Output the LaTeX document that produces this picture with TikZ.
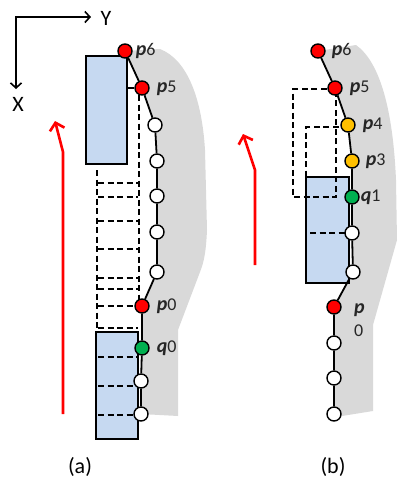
\documentclass[tikz,border=0pt]{standalone}
\usepackage{fontspec}
\setmainfont{Carlito}
\usepackage{tikz}
\usetikzlibrary{positioning,arrows.meta}
\pgfdeclarelayer{background}
\pgfsetlayers{background,main}
\definecolor{boxblue}{RGB}{198,217,241}
\definecolor{roadgray}{RGB}{217,217,217}
\definecolor{ptred}{RGB}{255,0,0}
\definecolor{ptgreen}{RGB}{0,176,80}
\definecolor{ptyellow}{RGB}{255,192,0}
\newcommand{\pl}[1]{\fontsize{20}{22}\selectfont\textbf{\textit{p}}\fontsize{18}{20}\selectfont#1}
\newcommand{\ql}[1]{\fontsize{20}{22}\selectfont\textbf{\textit{q}}\fontsize{18}{20}\selectfont#1}

\begin{document}
\begin{tikzpicture}[x=1pt,y=-1pt,
		pt/.style={circle,draw=black,line width=1.4pt,fill=white,minimum size=14pt,inner sep=0pt},
		redpt/.style={pt,fill=ptred},
		greenpt/.style={pt,fill=ptgreen},
		yellowpt/.style={pt,fill=ptyellow},
		lbl/.style={inner sep=0pt,anchor=west,text=black!85},
		bluebox/.style={rectangle,draw=black,line width=2.2pt,fill=boxblue,inner sep=0pt},
		traj/.style={line width=1.8pt},
		dashline/.style={line width=1.6pt,dash pattern=on 6pt off 3.5pt},
		road/.style={fill=roadgray},
		redarrow/.style={draw=ptred,line width=2.6pt,-{Straight Barb[length=7pt,width=15pt,line width=2.6pt]}},
		axisline/.style={line width=1.6pt,{Straight Barb[length=5pt,width=11pt,line width=1.6pt]}-{Straight Barb[length=5pt,width=11pt,line width=1.6pt]}},
		axislbl/.style={inner sep=0pt,font=\fontsize{22}{24}\selectfont},
		caption/.style={inner sep=0pt,font=\fontsize{22}{24}\selectfont}]
		\useasboundingbox (0,0) rectangle (397,493);
		% axes
		\coordinate (o) at (16,17);
		\coordinate (yend) at (91,17);
		\coordinate (xend) at (16,89);
		\draw[axisline] (xend) -- (o) -- (yend);
		\node[axislbl] (ylab) at (106,18) {Y};
		\node[axislbl] (xlab) at (18,104) {X};
		% (a)
		\node[bluebox,minimum width=41pt,minimum height=108pt] (boxa1) at (106.5,110) {};
		\node[bluebox,minimum width=42pt,minimum height=107pt] (boxa2) at (117,385.5) {};
		\draw[dashline] (97,170) -- (97,332);
		\draw[dashline] (139,95) -- (139,306);
		\foreach \y in {183,197,221,249,278,289,306,328,357,386,415}
			\draw[dashline] (98,\y) -- (138,\y);
		\node[redpt] (a6) at (125,51) {};
		\node[redpt] (a5) at (142,88) {};
		\node[pt] (aw1) at (155,125) {};
		\node[pt] (aw2) at (157,161) {};
		\node[pt] (aw3) at (157,196) {};
		\node[pt] (aw4) at (157,232) {};
		\node[pt] (aw5) at (157,272) {};
		\node[redpt] (a0) at (142,306) {};
		\node[greenpt] (aq0) at (142,348) {};
		\node[pt] (aw6) at (141,381) {};
		\node[pt] (aw7) at (141,414) {};
		\draw[traj] (boxa1.east |- a5) -- (a5);
		\draw[traj] (a6) -- (a5) -- (aw1) -- (aw2) -- (aw3) -- (aw4) -- (aw5) -- (a0) -- (aq0) -- (aw6) -- (aw7);
		\node[lbl,right=3pt of a6] (la6) {\pl{6}};
		\node[lbl,right=7pt of a5] (la5) {\pl{5}};
		\node[lbl,right=7pt of a0] (la0) {\pl{0}};
		\node[lbl,right=7pt of aq0] (laq0) {\ql{0}};
		\coordinate (ra1) at (63,414);
		\coordinate (ra2) at (63,152);
		\coordinate (ra3) at (55,121);
		\draw[redarrow] (ra1) -- (ra2) -- (ra3);
		\node[caption] (capa) at (80,467) {(a)};
		% (b)
		\node[bluebox,minimum width=43pt,minimum height=106pt] (boxb) at (327.5,230) {};
		\draw[dashline] (336,89) -- (293,89) -- (293,197) -- (336,197) -- cycle;
		\draw[dashline] (348,127) -- (306,127) -- (306,233) -- (348,233);
		\node[redpt] (b6) at (318,51) {};
		\node[redpt] (b5) at (335,88) {};
		\node[yellowpt] (b4) at (348,125) {};
		\node[yellowpt] (b3) at (352,161) {};
		\node[greenpt] (bq1) at (352,197) {};
		\node[pt] (bw1) at (352,233) {};
		\node[pt] (bw2) at (353,272) {};
		\node[redpt] (b0) at (334,307) {};
		\node[pt] (bw3) at (334,343) {};
		\node[pt] (bw4) at (334,378) {};
		\node[pt] (bw5) at (334,414) {};
		\draw[traj] (b6) -- (b5) -- (b4) -- (b3) -- (bq1) -- (bw1) -- (bw2) -- (b0) -- (bw3) -- (bw4) -- (bw5);
		\node[lbl,right=6pt of b6] (lb6) {\pl{6}};
		\node[lbl,right=7pt of b5] (lb5) {\pl{5}};
		\node[lbl,right=7pt of b4] (lb4) {\pl{4}};
		\node[lbl,right=6pt of b3] (lb3) {\pl{3}};
		\node[lbl,right=1pt of bq1] (lbq1) {\ql{1}};
		\node[lbl,anchor=north west,align=left] (lb0) at (354,303) {\pl{}\\[8pt]\fontsize{18}{20}\selectfont 0};
		\coordinate (rb1) at (255,265);
		\coordinate (rb2) at (255,170);
		\coordinate (rb3) at (243,134);
		\draw[redarrow] (rb1) -- (rb2) -- (rb3);
		\node[caption] (capb) at (333,467) {(b)};
		% road
		\begin{pgfonlayer}{background}
			\fill[road] (a6.center) -- (160,49) .. controls (188,60) and (202,100) .. (205,150) -- (207,230) .. controls (206,252) and (204,262) .. (200,272) -- (178,330) -- (178,416) -- (aw7.center) -- (aw6.center) -- (aq0.center) -- (a0.center) -- (aw5.center) -- (aw4.center) -- (aw3.center) -- (aw2.center) -- (aw1.center) -- (a5.center) -- cycle;
			\fill[road] (b6.center) -- (356,45) .. controls (380,62) and (393,110) .. (396,180) -- (397,240) -- (373,325) -- (373,411) -- (342,416) -- (bw5.center) -- (bw4.center) -- (bw3.center) -- (b0.center) -- (bw2.center) -- (bw1.center) -- (bq1.center) -- (b3.center) -- (b4.center) -- (b5.center) -- cycle;
		\end{pgfonlayer}
\end{tikzpicture}
\end{document}
